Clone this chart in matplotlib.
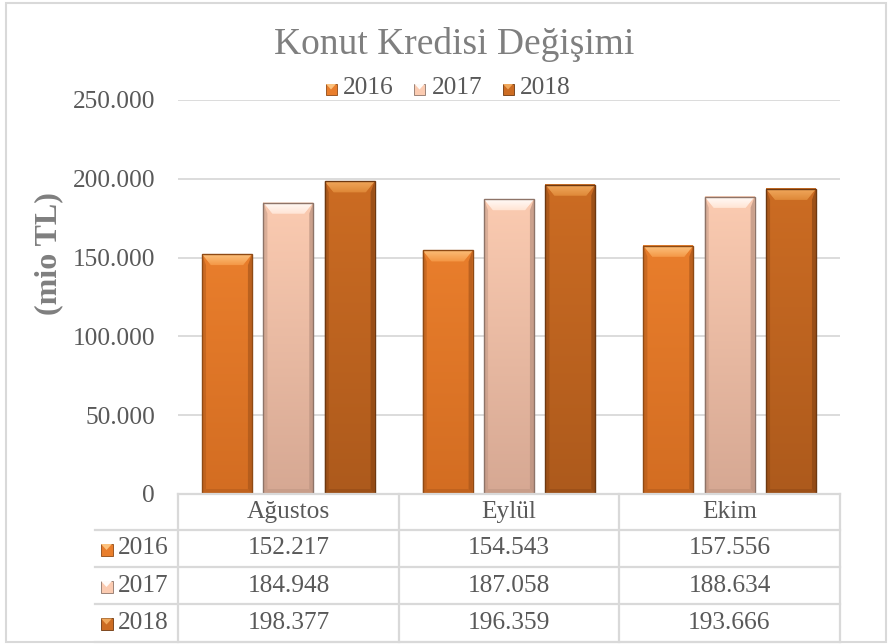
import matplotlib
matplotlib.use("Agg")
import matplotlib.pyplot as plt
import numpy as np
from matplotlib.colors import LinearSegmentedColormap
from matplotlib.patches import Polygon, Rectangle
from matplotlib.lines import Line2D

# ---------------- data ----------------
title = "Konut Kredisi Değişimi"
ylabel = "(mio TL)"
categories = ["Ağustos", "Eylül", "Ekim"]
series_names = ["2016", "2017", "2018"]
values_2016 = [152217, 154543, 157556]
values_2017 = [184948, 187058, 188634]
values_2018 = [198377, 196359, 193666]
yticks = [0, 50000, 100000, 150000, 200000, 250000]

series_values = [values_2016, values_2017, values_2018]

# ---------------- style ----------------
W, H = 889, 644
DPI = 100
FONT = ["Liberation Serif", "DejaVu Serif"]
plt.rcParams["font.family"] = FONT
TXT = "#595959"
GRID = "#d9d9d9"
FS = 18.3

styles = [
    dict(top="#e97e2c", bot="#d36d22", bevel_hi="#fcc27e", bevel_lo="#f49846", edge="#8f4a14", side="#a9561a"),
    dict(top="#fbcbb1", bot="#d6a893", bevel_hi="#fffbf8", bevel_lo="#ffe4d4", edge="#8e7468", side="#b8917f"),
    dict(top="#cc6c23", bot="#ad5a1c", bevel_hi="#f0a85c", bevel_lo="#df8838", edge="#6e3810", side="#8a4614"),
]


def fmt(v):
    return f"{v:,}".replace(",", ".")


fig = plt.figure(figsize=(W / DPI, H / DPI), dpi=DPI)


def fx(x):
    return x / W


def fy(y):
    return 1 - y / H


AX_L, AX_R, AX_T, AX_B = 178, 840, 100, 494
ax = fig.add_axes([fx(AX_L), fy(AX_B), (AX_R - AX_L) / W, (AX_B - AX_T) / H])
ax.set_xlim(-0.5, len(categories) - 0.5)
ax.set_ylim(yticks[0], yticks[-1])
for s in ax.spines.values():
    s.set_visible(False)
ax.set_yticks(yticks)
ax.set_yticklabels([fmt(v) if v else "0" for v in yticks])
ax.tick_params(axis="y", length=0, pad=16.5, labelsize=FS, labelcolor=TXT)
ax.set_xticks([])
ax.yaxis.grid(True, color=GRID, linewidth=1.3)
ax.set_axisbelow(True)

px_x = (len(categories)) / (AX_R - AX_L)
px_y = (yticks[-1] - yticks[0]) / (AX_B - AX_T)

x = np.arange(len(categories))
spacing = 0.278
bw = 0.226
grad = np.linspace(0, 1, 256).reshape(-1, 1)
for i, (vals, st) in enumerate(zip(series_values, styles)):
    bars = ax.bar(x + (i - 1) * spacing, vals, bw, color=st["top"], edgecolor="none", zorder=2)
    cmap = LinearSegmentedColormap.from_list("g", [st["bot"], st["top"]])
    cmap_b = LinearSegmentedColormap.from_list("b", [st["bevel_lo"], st["bevel_hi"]])
    for b in bars:
        x0, w, h = b.get_x(), b.get_width(), b.get_height()
        ax.imshow(grad, extent=(x0, x0 + w, 0, h), origin="lower", cmap=cmap,
                  aspect="auto", zorder=2.5)
        dx, dy = 9 * px_x, 11 * px_y
        sx, sb = 4 * px_x, 5 * px_y
        # side bevels
        ax.add_patch(Polygon([(x0, h), (x0 + sx, h - dy), (x0 + sx, sb), (x0, 0)],
                             closed=True, facecolor=st["side"], edgecolor="none", alpha=0.45, zorder=3))
        ax.add_patch(Polygon([(x0 + w, h), (x0 + w - sx, h - dy), (x0 + w - sx, sb), (x0 + w, 0)],
                             closed=True, facecolor=st["side"], edgecolor="none", alpha=0.7, zorder=3))
        # bottom bevel
        ax.add_patch(Polygon([(x0, 0), (x0 + w, 0), (x0 + w - sx, sb), (x0 + sx, sb)],
                             closed=True, facecolor=st["side"], edgecolor="none", alpha=0.45, zorder=3))
        # top bevel with gradient
        poly = Polygon([(x0, h), (x0 + w, h), (x0 + w - dx, h - dy), (x0 + dx, h - dy)],
                       closed=True, facecolor=st["bevel_lo"], edgecolor="none", zorder=3.1)
        ax.add_patch(poly)
        im = ax.imshow(grad, extent=(x0, x0 + w, h - dy, h), origin="lower", cmap=cmap_b,
                       aspect="auto", zorder=3.2)
        im.set_clip_path(poly)
        # outline
        ax.add_patch(Rectangle((x0, 0), w, h, facecolor="none", edgecolor=st["edge"],
                               linewidth=1.0, zorder=3.5))
ax.set_xlim(-0.5, len(categories) - 0.5)
ax.set_ylim(yticks[0], yticks[-1])

# ---------------- title, legend, ylabel ----------------
fig.text(fx(454), fy(45), title, ha="center", va="center", fontsize=27, color="#7f7f7f")
fig.text(fx(49), fy(254), ylabel, ha="center", va="center", rotation=90, fontsize=23,
         fontweight="bold", color="#7f7f7f")


def marker(xc, yc, st, size=11):
    fig.add_artist(Rectangle((fx(xc - size / 2), fy(yc + size / 2)), size / W, size / H,
                             transform=fig.transFigure, facecolor=st["top"],
                             edgecolor=st["edge"], linewidth=0.6))
    fig.add_artist(Polygon([(fx(xc - size / 2 + 0.5), fy(yc - size / 2 + 0.5)),
                            (fx(xc + size / 2 - 0.5), fy(yc - size / 2 + 0.5)),
                            (fx(xc), fy(yc + 0.5))], closed=True, transform=fig.transFigure,
                           facecolor=st["bevel_hi"], edgecolor="none"))


leg_x = [331, 419.5, 508]
for lx, name, st in zip(leg_x, series_names, styles):
    marker(lx, 89, st)
    fig.text(fx(lx + 12), fy(88), name, ha="left", va="center", fontsize=FS, color=TXT)

# ---------------- data table ----------------
col_edges = [AX_L, 399, 619, AX_R]
row_edges = [AX_B, 530, 567, 604, 642]
TBL_L = 95


def hline(x0, x1, y):
    fig.add_artist(Line2D([fx(x0), fx(x1)], [fy(y), fy(y)], transform=fig.transFigure,
                          color=GRID, linewidth=1.6))


def vline(xv, y0, y1):
    fig.add_artist(Line2D([fx(xv), fx(xv)], [fy(y0), fy(y1)], transform=fig.transFigure,
                          color=GRID, linewidth=1.6))


hline(AX_L, AX_R, row_edges[0])
for y in row_edges[1:]:
    hline(TBL_L, AX_R, y)
for xe in col_edges:
    vline(xe, row_edges[0], row_edges[-1])

for j, cat in enumerate(categories):
    xc = (col_edges[j] + col_edges[j + 1]) / 2
    fig.text(fx(xc), fy((row_edges[0] + row_edges[1]) / 2), cat, ha="center", va="center",
             fontsize=FS, color=TXT)
for i, (name, vals, st) in enumerate(zip(series_names, series_values, styles)):
    yc = (row_edges[i + 1] + row_edges[i + 2]) / 2
    marker(106.5, yc + 1, st, size=12)
    fig.text(fx(118), fy(yc), name, ha="left", va="center", fontsize=FS, color=TXT)
    for j, v in enumerate(vals):
        xc = (col_edges[j] + col_edges[j + 1]) / 2
        fig.text(fx(xc), fy(yc), fmt(v), ha="center", va="center", fontsize=FS, color=TXT)

# outer border
fig.add_artist(Rectangle((fx(6), fy(642)), (886 - 6) / W, (642 - 3) / H, transform=fig.transFigure,
                         facecolor="none", edgecolor=GRID, linewidth=1.5))

fig.savefig("out.png", dpi=DPI)
